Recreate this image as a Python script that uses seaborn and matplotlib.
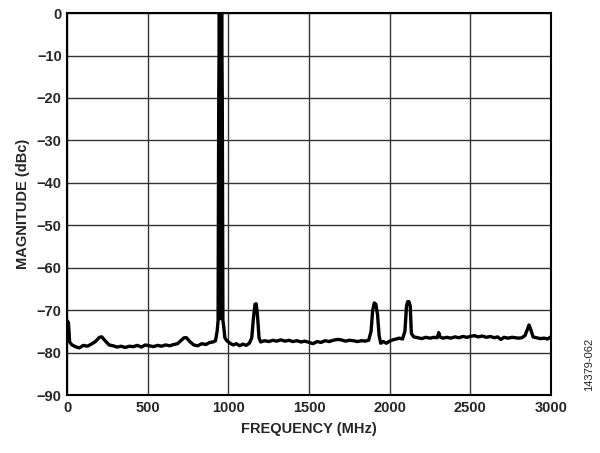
import matplotlib
matplotlib.use("Agg")
import matplotlib.pyplot as plt
import seaborn as sns
import pandas as pd

# spectrum trace (MHz, dBc)
freq_mhz = [0, 8, 15, 30, 50, 75, 100, 125, 150, 175, 200, 215, 235, 260, 285, 310, 335,
            360, 385, 410, 435, 460, 485, 510, 535, 560, 585, 610, 635, 660, 685, 705,
            725, 740, 760, 785, 810, 835, 860, 885, 905, 920, 930, 936,
            940, 944, 948, 951, 954, 958, 962, 966,
            970, 978, 990, 1010, 1030, 1050, 1070, 1090, 1110, 1130, 1145, 1155, 1165,
            1172, 1180, 1190, 1200, 1225, 1250, 1275, 1300, 1325, 1350, 1375, 1400,
            1425, 1450, 1475, 1500, 1525, 1550, 1575, 1600, 1625, 1650, 1675, 1700,
            1725, 1750, 1775, 1800, 1825, 1850, 1870, 1885, 1895, 1905, 1915, 1925,
            1935, 1945, 1960, 1980, 2000, 2020, 2040, 2060, 2080, 2095, 2105, 2112,
            2120, 2128, 2135, 2150, 2175, 2200, 2225, 2250, 2275, 2295, 2305, 2312,
            2330, 2355, 2380, 2405, 2430, 2455, 2480, 2500, 2525, 2550, 2575, 2600,
            2625, 2650, 2670, 2690, 2710, 2735, 2760, 2780, 2800, 2820, 2840, 2855,
            2865, 2875, 2890, 2910, 2935, 2960, 2980, 3000]
level_dbc = [-72.5, -73.0, -77.5, -78.2, -78.6, -78.9, -78.3, -78.5, -78.0, -77.4, -76.4,
             -76.3, -77.2, -78.2, -78.4, -78.7, -78.5, -78.8, -78.5, -78.6, -78.3, -78.7,
             -78.2, -78.4, -78.6, -78.3, -78.5, -78.2, -78.4, -78.1, -77.9, -77.2, -76.5,
             -76.5, -77.4, -78.2, -78.4, -77.9, -78.1, -77.6, -77.5, -77.2, -75.0, -72.5,
             -20.0, 0.0, -20.0, -72.0, -20.0, 0.0, -20.0, -72.5,
             -73.5, -76.5, -77.2, -77.8, -78.2, -77.9, -78.4, -78.0, -78.3, -77.8, -76.5,
             -72.0, -68.6, -68.5, -71.0, -76.5, -77.5, -77.2, -77.4, -77.1, -77.3, -77.0,
             -77.3, -77.1, -77.4, -77.2, -77.5, -77.3, -77.6, -77.9, -77.4, -77.6, -77.2,
             -77.4, -77.1, -76.9, -77.0, -77.3, -77.1, -77.2, -77.4, -77.2, -77.3, -77.1,
             -75.0, -70.0, -68.3, -68.6, -71.0, -76.0, -77.8, -77.4, -77.8, -77.3, -77.0,
             -76.8, -76.6, -76.8, -75.0, -69.0, -68.0, -68.0, -69.0, -75.5, -76.3, -76.5,
             -76.7, -76.4, -76.6, -76.4, -76.5, -75.3, -76.3, -76.6, -76.4, -76.6, -76.3,
             -76.5, -76.2, -76.4, -76.2, -76.0, -76.3, -76.1, -76.4, -76.2, -76.5, -76.3,
             -76.9, -76.4, -76.6, -76.4, -76.5, -76.6, -76.5, -76.0, -74.5, -73.5, -74.5,
             -76.3, -76.5, -76.7, -76.6, -76.8, -76.3]

x_ticks = [0, 500, 1000, 1500, 2000, 2500, 3000]
y_ticks = [0, -10, -20, -30, -40, -50, -60, -70, -80, -90]

sns.set_style("white")
plt.rcParams["font.family"] = ["Liberation Sans", "DejaVu Sans"]
plt.rcParams["font.weight"] = "bold"

df = pd.DataFrame({"freq": freq_mhz, "mag": level_dbc})

fig = plt.figure(figsize=(6, 4.53), dpi=100)
ax = fig.add_axes([0.112, 0.128, 0.806, 0.843])

ax.grid(True, color="#333333", linewidth=1.0)
ax.set_axisbelow(True)
sns.lineplot(data=df, x="freq", y="mag", color="black", linewidth=2.4,
             estimator=None, sort=False, ax=ax)

ax.set_xlim(0, 3000)
ax.set_ylim(-90, 0)
ax.set_xticks(x_ticks)
ax.set_yticks(y_ticks)
ax.tick_params(length=0, pad=4, labelsize=10.5)
for lab in ax.get_xticklabels() + ax.get_yticklabels():
    lab.set_fontweight("bold")
ax.set_xlabel("FREQUENCY (MHz)", fontsize=10.5, fontweight="bold", labelpad=5)
ax.set_ylabel("MAGNITUDE (dBc)", fontsize=10.5, fontweight="bold", labelpad=5)

for s in ax.spines.values():
    s.set_visible(True)
    s.set_color("black")
    s.set_linewidth(1.5)

fig.text(0.982, 0.195, "14379-062", rotation=90, fontsize=8,
         fontweight="normal", ha="center", va="center")

fig.savefig("out.png", dpi=100)
